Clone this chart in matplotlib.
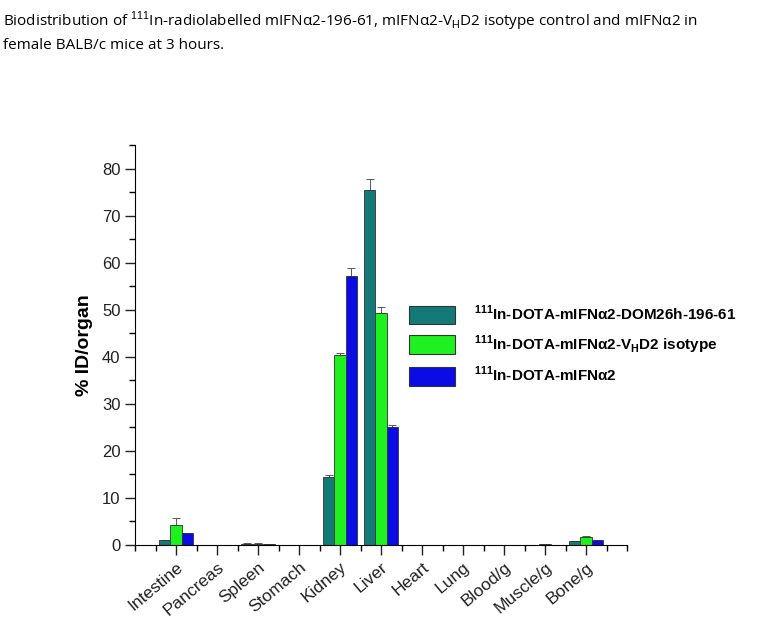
import numpy as np
import matplotlib.pyplot as plt
from matplotlib.patches import Patch
from matplotlib.ticker import MultipleLocator

organs = ["Intestine", "Pancreas", "Spleen", "Stomach", "Kidney", "Liver",
          "Heart", "Lung", "Blood/g", "Muscle/g", "Bone/g"]

dom26h = [1.0, 0.0, 0.3, 0.1, 14.4, 75.4, 0.0, 0.1, 0.0, 0.1, 0.8]
dom26h_err = [0.0, 0.0, 0.05, 0.0, 0.5, 2.4, 0.0, 0.0, 0.0, 0.0, 0.1]
vhd2 = [4.2, 0.0, 0.3, 0.1, 40.3, 49.3, 0.0, 0.1, 0.0, 0.2, 1.8]
vhd2_err = [1.6, 0.0, 0.05, 0.0, 0.6, 1.2, 0.0, 0.0, 0.0, 0.0, 0.1]
mifn = [2.5, 0.0, 0.2, 0.1, 57.2, 25.0, 0.0, 0.1, 0.0, 0.1, 1.0]
mifn_err = [0.1, 0.0, 0.0, 0.0, 1.6, 0.6, 0.0, 0.0, 0.0, 0.0, 0.1]

labels = ["$^{\\mathbf{111}}$In-DOTA-mIFN\u03b12-DOM26h-196-61",
          "$^{\\mathbf{111}}$In-DOTA-mIFN\u03b12-V$_{\\mathbf{H}}$D2 isotype",
          "$^{\\mathbf{111}}$In-DOTA-mIFN\u03b12"]
colors = ["#137a78", "#1ff01f", "#0b0be6"]

plt.rcParams["font.family"] = ["Liberation Sans", "DejaVu Sans"]
plt.rcParams["mathtext.fontset"] = "custom"
plt.rcParams["mathtext.rm"] = "Liberation Sans"
plt.rcParams["mathtext.bf"] = "Liberation Sans:bold"

fig = plt.figure(figsize=(7.6, 6.21), dpi=100)
ax = fig.add_axes([135/760, 1 - 545/621, (627-135)/760, 400/621])

x = np.arange(1, len(organs) + 1)
w = 0.27
for i, (vals, errs) in enumerate([(dom26h, dom26h_err), (vhd2, vhd2_err), (mifn, mifn_err)]):
    ax.bar(x + (i - 1) * w, vals, w, color=colors[i], edgecolor="#333333",
           linewidth=0.6, zorder=2)
    ax.errorbar(x + (i - 1) * w, vals, yerr=[np.zeros(len(errs)), errs],
                fmt="none", ecolor="#555555", elinewidth=0.7, capsize=3,
                capthick=0.7, zorder=1)

ax.set_xlim(0, 12)
ax.set_ylim(0, 85)
ax.set_xticks(x)
ax.set_xticklabels(organs, rotation=40, ha="right", rotation_mode="anchor",
                   fontsize=12.5)
ax.xaxis.set_minor_locator(MultipleLocator(0.5))
ax.yaxis.set_major_locator(MultipleLocator(10))
ax.yaxis.set_minor_locator(MultipleLocator(5))
ax.tick_params(axis="y", which="major", labelsize=12)
ax.tick_params(axis="both", which="major", direction="out", length=7,
               width=1, colors="#222222")
ax.tick_params(axis="both", which="minor", direction="out", length=4, width=1)
ax.spines["top"].set_visible(False)
ax.spines["right"].set_visible(False)
ax.set_ylabel("% ID/organ", fontsize=14, fontweight="bold", labelpad=6)

handles = [Patch(facecolor=c, edgecolor="#333333", linewidth=0.8) for c in colors]
fig.legend(handles, labels, loc="upper left", bbox_to_anchor=(395/760, 1 - 290/621),
           frameon=False, handlelength=3.0, handleheight=1.5,
           handletextpad=1.3, labelspacing=0.6, prop={"weight": "bold", "size": 11})

fig.text(0.004, 0.985,
         "Biodistribution of $^{111}$In-radiolabelled mIFN\u03b12-196-61, mIFN\u03b12-V$_{\\mathrm{H}}$D2 isotype control and mIFN\u03b12 in\nfemale BALB/c mice at 3 hours.",
         ha="left", va="top", fontsize=11, family=["Open Sans", "DejaVu Sans"],
         linespacing=1.45)

fig.savefig("out.png", dpi=100)
